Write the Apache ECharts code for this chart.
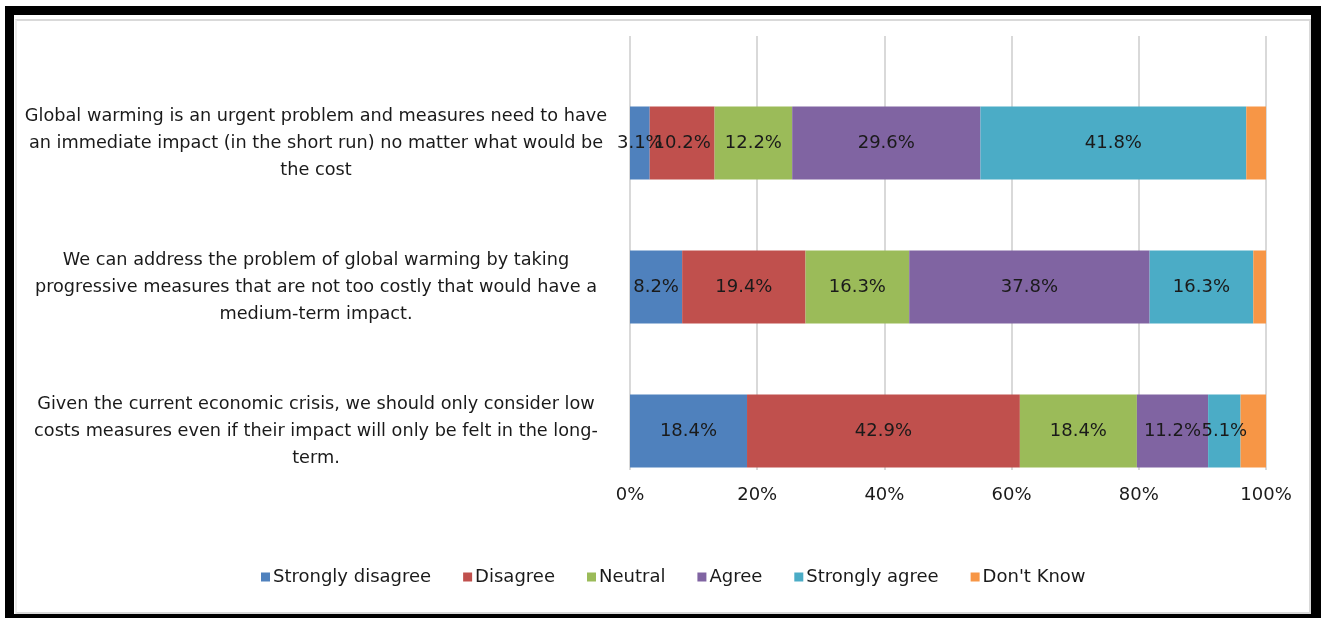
<!DOCTYPE html>
<html>
<head>
<meta charset="utf-8">
<script src="https://cdn.jsdelivr.net/npm/echarts@6/dist/echarts.min.js"></script>
<style>
  html, body { margin: 0; padding: 0; background: #ffffff; }
  #outer { position: absolute; left: 5px; top: 6px; width: 1316px; height: 612px; background: #000; }
  #inner { position: absolute; left: 14px; top: 15px; width: 1297px; height: 599px; background: #fff; }
  #frame { position: absolute; left: 15px; top: 19px; width: 1292px; height: 591px; border: 2px solid #d9d9d9; border-left-color: #ececec; }
  #chart { position: absolute; left: 0; top: 0; width: 1321px; height: 618px; }
</style>
</head>
<body>
<div id="outer"></div>
<div id="inner"></div>
<div id="frame"></div>
<div id="chart"></div>
<script>
// Survey statements (top to bottom)
const statements = [
  'Global warming is an urgent problem and measures need to have\nan immediate impact (in the short run) no matter what would be\nthe cost',
  'We can address the problem of global warming by taking\nprogressive measures that are not too costly that would have a\nmedium-term impact.',
  'Given the current economic crisis, we should only consider low\ncosts measures even if their impact will only be felt in the long-\nterm.'
];

// Response shares (%) per statement
const stronglyDisagree = [3.1, 8.2, 18.4];
const disagree         = [10.2, 19.4, 42.9];
const neutral          = [12.2, 16.3, 18.4];
const agree            = [29.6, 37.8, 11.2];
const stronglyAgree    = [41.8, 16.3, 5.1];
const dontKnow         = [3.1, 2.0, 4.0];

const responseNames = ['Strongly disagree', 'Disagree', 'Neutral', 'Agree', 'Strongly agree', "Don't Know"];
const responseValues = [stronglyDisagree, disagree, neutral, agree, stronglyAgree, dontKnow];
const responseColors = ['#4F81BD', '#C0504D', '#9BBB59', '#8064A2', '#4BACC6', '#F79646'];
const labelled = [true, true, true, true, true, false];

const FONT = 'DejaVu Sans';
const TEXT = '#1a1a1a';

const chart = echarts.init(document.getElementById('chart'));

const series = responseNames.map((name, i) => ({
  name: name,
  type: 'bar',
  stack: 'total',
  xAxisIndex: 1,
  yAxisIndex: 1,
  barWidth: 73,
  data: responseValues[i],
  itemStyle: { color: responseColors[i] },
  label: {
    show: labelled[i],
    position: 'inside',
    color: TEXT,
    fontFamily: FONT,
    fontSize: 18,
    formatter: p => p.value.toFixed(1) + '%'
  },
  emphasis: { disabled: true }
}));

chart.setOption({
  animation: false,
  textStyle: { fontFamily: FONT },
  legend: {
    data: responseNames,
    left: 256,
    top: 563,
    icon: 'rect',
    itemWidth: 9,
    itemHeight: 9,
    itemGap: 32,
    textStyle: { fontFamily: FONT, fontSize: 18, color: TEXT, padding: [0, 0, 0, -2] }
  },
  grid: [
    // percentage scale with vertical gridlines
    { left: 630, right: 55, top: 36, bottom: 148 },
    // stacked bars
    { left: 630, right: 55, top: 71, bottom: 115 }
  ],
  xAxis: [
    {
      gridIndex: 0,
      type: 'value',
      min: 0, max: 100, interval: 20,
      axisLine: { show: false },
      axisTick: { show: false },
      splitLine: { show: true, lineStyle: { color: '#d9d9d9', width: 2 } },
      axisLabel: { formatter: '{value}%', fontFamily: FONT, fontSize: 18, color: TEXT, margin: 16 }
    },
    {
      gridIndex: 1,
      type: 'value',
      min: 0, max: 100,
      show: false
    }
  ],
  yAxis: [
    { gridIndex: 0, type: 'value', show: false },
    {
      gridIndex: 1,
      type: 'category',
      inverse: true,
      data: statements,
      axisLine: { show: false },
      axisTick: { show: false },
      axisLabel: {
        align: 'center',
        margin: 314,
        fontFamily: FONT,
        fontSize: 17.7,
        lineHeight: 27,
        color: TEXT
      }
    }
  ],
  series: series
});
</script>
</body>
</html>
